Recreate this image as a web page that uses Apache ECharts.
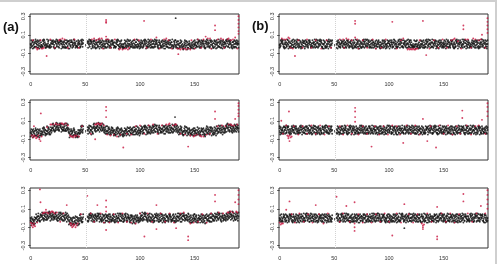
<!DOCTYPE html>
<html>
<head>
<meta charset="utf-8">
<script src="https://cdn.jsdelivr.net/npm/echarts@6/dist/echarts.min.js"></script>
<style>
  html, body { margin: 0; padding: 0; background: #fff; }
  #chart { width: 499px; height: 264px; }
</style>
</head>
<body>
<div id="chart"></div>
<script>
// tick labels
const xTicks = [0, 50, 100, 150];
const yTicks = [-0.3, -0.1, 0.1, 0.3];
const panelLabels = ['(a)', '(b)'];
const gapLine = 50.5;

// black band: one letter per 0.5 on x, 'k' = 0, each letter step = 0.01, '.' = no data
// core of the band
const bandA = 'kjlim jkhln lkjmi kilhj jihkl ijkgj kilhj ijlhk lkmjn mlkin klmjl nkljm kmjhl lkmin kljim mjkil ' +
  'jlkin ikmjk lhjkm kl... ....l mkjln kmlji lnkjm kljim hkmlj mjkil jkhln lkjmi iknjl kjlim hlkmj ' +
  'jihkl ijkhj kgljh ijlik ikjhl jkilh kijmj hkjil kmjhl ljikm kilhj mkilj jnkhk lhjkm kljim jlkin ' +
  'mjkil ikmjk hlkmj lkjmi jihkj ihjkg jkihl ijhki hjkil ijgkj kihjl jikhj kljim lkmin kmjhl jlkin ' +
  'lkmjl kilhj mjkil lnkjm kjlim hkmlj ikmjk mlkin lhjkm kljim jnkhk lmkjl k';
const bandB = 'jkilm kljhk mkjil kjmhl likjm jhkli kmjlk ijlhm kjmil hlkjn jkilk mjhkl ilkmj kjhlm ljkik jmlhk ' +
  'kjlmi hkjln kmjik jl... ....k jlmik hkjlm ikljk mjkli kjhml ljkim kilhj jlkmh kijlm kljhk mkijl ' +
  'ikljm jhkli kmjlk lijkh kljmi jkhlk ilmjk jkilh lkjim kjhlm jlkik mhjkl jkmli hlkjm ikjlk ljhmk ' +
  'jijhk ihjkj hkijl jgikj kljim jkhlk mijkl kjlhm ljkim kihlj jmkli kjhlk mkjli jlkhm kijlk ljikm ' +
  'kjhlm ikljk mljik jkmhl likjm kjlhk jmkil kljim jkmli hkljm kjilk mljkh k';
const bandC = 'hgifj higek jhfig hjegi gihjf ihkgj jikhl ijkhj mnlpo kmnol nmkpn omlnk nmokl pmnlm hgifj ghiek ' +
  'fhgei gfhdg kjlik jl... ....k jlmik kjlim nomln mnolk nmpln omknm kjlij jikhl ijhkj hijgk ihkjg ' +
  'ihjgk hikjg ijhgk jhigj jikhl jkhij kijlh ijkhj kjlim jkhln lkjmi kilhj lkmjn kljmi mlkjn lkmil ' +
  'lmkjn klmjl mkljn lkmjl mlkjn lkmjl jikhl jkhij ijkhj jikhl ihjgk hikjg ijhgk jhigj hikjf ihjgk ' +
  'jikhl ijkhj kijlh jhkij kljim lkmjl kilmj lkmin mlnkj nmlok mnlkm olnmk m';
const bandD = 'mhljk kjnik kmhjl nkilj ljmik kjhlm kiljk mjkhl kilmj hlkjn ljmki kjlhm jkmil lhkjm ikmlj kjhln ' +
  'lkjmi kijhl mjkil jk... ....l kjmil hjkml kijlk kmjil jlkhm ljikm kjlhk ijkml hkljm kjlik mljhk ' +
  'kljhm ikljk jmlik kjhlm ljkim jkhlm kiljk mjkil kjmli hlkjm ljkim kjlhk mjkli jhklm kljik ljmhk ' +
  'kiljm jklhk mjlik kjlmh ljkmi kjhlk milkj jkmlh kmjli jlkhk ljmik jkilh ikljm kjhlm jlkim kljhk ' +
  'mkjli jhklm kiljk ljmkh kljmi jkhlk mljik kjmlh ljkim kmjhl jklim kljhm k';
const bandE = 'hgjfi hgiek kjlim jkhln mlnkj nmlok mnlkm olnmk nmlkm olmnk lkmjn kljmi mlkjn lkmjl hgifj higek ' +
  'ghfie hjgih kjlik jl... ....l mkjln kmlji lnkjm lkmjn kljmi kjlim jkhln lkjmi kilhj kjmli ikmjk ' +
  'kljim hlkjm jkilm kjhlk jikhl ijkhj kijlh jhkij lkmjn kljmi mlkjn lkmil kjlim jkhln lkjmi kilhj ' +
  'mjkli kjhml ljkim kilhj jlkmh kijlm lkmjn kljmi mlkjn lkmil jikhl ijkhj kijlh jhkij ijkhl jikhk ' +
  'kljim jkhlk lkmjn mlkjl lmkjn klmjl mkljn lkmjl mnlkm olnmk nmlkm olmnk m';
const bandF = 'kijlh jkmli kjhlm ljkim kjmli hlkjm ljkim kjlhk ljmik kjhlm kiljk mjkhl kmjil jlkhm ljikm kjlhk ' +
  'jkmil lhkjm ikmlj kj... ....k ljmik kjhlm ikljk mjkli jhklm kljik ljmhk kiljm jklhk mjlik kjlmh ' +
  'ijkml hkljm kjlik mljhk ljkmi kjhlk milkj jkmlh kmjli jlkhk ljmik jkilh ikljm kjhlm jlkim kljhk ' +
  'kljhm ikljk jmlik kjhlm mkjli jhklm kiljk ljmkh kljmi jkhlk mljik kjmlh ljkim kmjhl jklim kljhm ' +
  'kilmj hlkjn ljmki kjlhm lkjmi kijhl mjkil jklmk mhljk kjnik kmhjl nkilj k';

// outer fringe of the band, same encoding
const fringeA = 'gohnf ogmhp hngog nfohm ghonp omgih phnog hgoln nohgf gnpho mhgon ofnhg hngog gohnf nfohm ogmhp ' +
  'omgih hgoln ghonp ho... ....n gnpho ofnhg nohgf ogmhp nfohm gohnf hngog phnog mhgon omgih ghonp ' +
  'ofnhg nohgf hgoln gnpho nfohm hngog ogmhp gohnf hgoln ghonp ofnhg phnog mhgon gnpho nohgf omgih ' +
  'gohnf nfohm hngog ogmhp fgnmo ogmnf nflgo mngfe fmogn nemgf nlfhg gmfnf omgih phnog hgoln nohgf ' +
  'gnpho mhgon ofnhg gohnf ogmhp hngog nfohm ghonp phnog nohgf mhgon hgoln g';
const fringeB = 'ghonp nohgf ogmhp ofnhg hngog phnog gnpho gohnf hgoln nfohm mhgon omgih ogmhp gnpho ghonp nohgf ' +
  'ofnhg gohnf phnog no... ....g nfohm hgoln hngog mhgon omgih nohgf ogmhp gohnf ofnhg ghonp gnpho ' +
  'phnog hngog omgih nfohm nohgf mhgon gohnf hgoln nfohm ogmhp ofnhg ghonp gnpho hgoln hngog phnog ' +
  'omgih gohnf nohgf mhgon hngog ghonp gnpho ogmhp hgoln ofnhg nfohm omgih gohnf phnog mhgon nohgf ' +
  'ghonp nfohm ogmhp gnpho ofnhg omgih hgoln hngog nohgf ogmhp phnog gohnf o';
const fringeC = 'dlekc ldjem ekdld kclej efmln mkegf ogmnf gfnkm qrkji jqskr pkjrq riqkj kqjrj jrkqi kclej ldjem ' +
  'kiced dckhj ghonp ho... ....n gnpho ofnhg qrkji rjpks qirkp jrkqi hngog ogmnf lgfnm mkegf efmln ' +
  'mdlfe lmfed femjl elnfm mengl gmfnf nflgo fngme hgoln ghonp ofnhg phnog nihpo hoqip opihg pnhji ' +
  'hpiog ogpin iohph phniq hipoq qioph nflgo mngfe fmogn nemgf mkegf fleme mkegf nflme femjl lmfed ' +
  'fmogn lgfnm nemgf fngme ogmhp iohph nfohm hipoq rjpqi pqjih ojiqp jiqnp i';
const fringeD = 'ofnhg mhgon gnpho nohgf hgoln phnog omgih ghonp nfohm hngog ogmhp gohnf gnpho ofnhg nohgf mhgon ' +
  'ghonp phnog hgoln og... ....h gohnf hngog ogmhp nohgf ghonp nfohm ofnhg omgih gnpho phnog hngog ' +
  'mhgon ogmhp hgoln gohnf hngog omgih ofnhg gnpho phnog gohnf nohgf nfohm ogmhp mhgon ghonp hgoln ' +
  'gnpho hngog gohnf omgih ofnhg hgoln nfohm phnog ghonp nohgf ogmhp mhgon gohnf omgih hngog ofnhg ' +
  'nfohm gnpho hgoln nohgf phnog ogmhp ghonp gohnf mhgon ofnhg omgih hngog n';
const fringeE = 'kclej edlik ogmhp mhgon iqjph jpiqi ijqpr qhpji qoikj pqjih hoqip qioph phniq ogpin dlekc ekdld ' +
  'dkmel lckde nohgf go... ....h ghonp phnog mhgon ihpmo pgoih gohnf nfohm hngog omgih nohgf ogmhp ' +
  'gnpho phnog ghonp hgoln lgfnm nemgf mengl nlfhg phniq hipoq opihg iohph gohnf hgoln phnog gnpho ' +
  'ofnhg nfohm mhgon omgih nohgf ogmhp hpiog ogpin pnhji nihpo gmfnf fgnmo ogmnf gfnkm fmogn fngme ' +
  'nfohm hngog pgoih ihpmo hoqip opihg pnhji nihpo ijqpr qiojr qhpji iqjph q';
const fringeF = 'hngog hgoln gohnf mhgon nohgf omgih ofnhg nfohm ogmhp ghonp phnog gnpho mhgon gohnf hgoln hngog ' +
  'nfohm ofnhg omgih gn... ....o phnog ghonp ogmhp gnpho nohgf hngog hgoln gohnf nfohm mhgon ofnhg ' +
  'omgih ogmhp gnpho ghonp phnog hgoln nohgf hngog ofnhg mhgon gohnf ogmhp ghonp omgih nfohm gnpho ' +
  'hgoln phnog hngog nohgf ogmhp gohnf ofnhg omgih mhgon nfohm ghonp phnog nohgf gnpho hgoln gohnf ' +
  'hngog ofnhg ogmhp nfohm omgih mhgon phnog ghonp gnpho hgoln nohgf ofnhg h';

// stray black points outside the band
const blackA = [[132.6, 0.28]];
const blackB = [];
const blackC = [[132, 0.14]];
const blackD = [];
const blackE = [];
const blackF = [[114, -0.11]];

// red points
const redA = [[2,0.04],[5,-0.04],[6,-0.06],[7,-0.05],[9,0.04],[10,-0.05],[11,-0.05],[12,-0.04],[14.6,-0.13],[18,0.05],[22,-0.04],[26,0.04],[27,0.05],[29,0.06],[31,0.05],[34,-0.04],[40,0.05],[44,-0.04],[56,0.05],[58,0.06],[60,0.04],[62,0.05],[63,0.06],[65,0.06],[66,-0.05],[69,0.26],[69,0.24],[69,0.23],[69,0.08],[69,0.05],[71,0.05],[73,-0.04],[77,0.05],[81,-0.06],[82,-0.05],[84,-0.06],[86,-0.05],[87,-0.05],[89,-0.06],[90,-0.04],[95,0.05],[99,0.04],[103.7,0.25],[106,-0.04],[110,0.05],[115,0.07],[118,-0.05],[122,0.05],[124,0.06],[126,0.04],[129,-0.05],[134,-0.05],[135,-0.11],[136,-0.05],[137,-0.06],[139,-0.05],[141,-0.05],[142,-0.06],[144,-0.05],[146,-0.06],[147,0.04],[150,-0.05],[153,0.05],[156,-0.04],[158,0.05],[160,0.08],[162,0.06],[164,0.06],[165,-0.05],[168.6,0.2],[168.6,0.15],[171,0.05],[174,0.06],[176,0.05],[177,-0.04],[180,0.05],[181,0.06],[183,0.04],[185,0.05],[187,0.07],[189,-0.05],[190,0.3],[190,0.26],[190,0.22],[190,0.18],[190,0.14],[190,0.11]];
const redB = [[2,0.06],[4,0.05],[6,0.05],[8,0.07],[9,0.06],[10,-0.04],[12,-0.05],[14,-0.13],[17,0.04],[21,-0.04],[25,0.05],[29,-0.04],[33,0.04],[38,-0.05],[43,0.04],[47,-0.04],[55,0.05],[58,0.05],[59,-0.04],[61,0.06],[63,0.05],[66,0.04],[69,0.25],[69,0.22],[69,0.07],[71,0.05],[72,-0.05],[76,0.04],[80,-0.04],[85,0.05],[88,-0.05],[93,-0.04],[97,0.05],[103,0.24],[107,-0.05],[111,0.04],[113,0.06],[117,-0.06],[118,-0.05],[119,-0.06],[120,-0.055],[121,-0.06],[122,-0.05],[123,-0.06],[124,-0.06],[125,-0.05],[126,-0.05],[128,0.04],[131,0.25],[134,-0.12],[137,-0.05],[141,0.04],[145,-0.04],[149,0.05],[153,-0.04],[157,0.04],[159,0.05],[160,0.06],[163,0.03],[166,-0.05],[168,0.2],[168,0.16],[170,0.05],[172,0.05],[175,-0.04],[177,0.06],[179,0.05],[182,0.04],[184,0.05],[185,0.1],[188,-0.04],[190,0.28],[190,0.24],[190,0.2],[190,0.16],[190,0.12]];
const redC = [[1,-0.06],[2,-0.08],[3,-0.06],[4,-0.07],[5,-0.09],[6,-0.08],[7,-0.06],[8,-0.1],[9,-0.12],[9.3,0.18],[10,-0.07],[3,0.04],[15,0.03],[18,0.06],[19,0.06],[21,0.06],[23,0.07],[24,0.06],[26,0.06],[28,0.07],[29,0.07],[30,0.06],[32,0.07],[34,0.05],[36,-0.06],[37,-0.07],[38,-0.07],[39,-0.08],[40,-0.06],[41,-0.07],[42,-0.06],[44,-0.07],[47,0.04],[55,-0.04],[59,0.06],[59,-0.1],[60,0.06],[61,0.07],[62,0.07],[63,0.06],[64,0.06],[65,0.07],[67,0.05],[69,0.25],[69,0.21],[69,0.14],[70,-0.05],[73,-0.06],[76,-0.05],[79,-0.07],[82,-0.05],[84.7,-0.19],[88,-0.04],[92,-0.05],[96,0.04],[100,0.05],[104,-0.04],[108,0.05],[112,0.06],[116,-0.04],[120,0.05],[124,0.06],[126,0.06],[127,0.07],[130,0.05],[132,0.06],[133,0.06],[137,-0.04],[141,-0.05],[144,-0.18],[146,-0.06],[149,-0.07],[150,-0.06],[152,-0.05],[155,-0.06],[156,-0.07],[158,-0.07],[161,-0.05],[164,-0.04],[168.6,0.2],[168.6,0.12],[171,0.04],[175,0.05],[178,0.04],[181,0.06],[183,0.06],[184,0.05],[186,0.05],[187,0.12],[189,0.06],[190,0.29],[190,0.26],[190,0.22],[190,0.18],[190,0.15]];
const redD = [[1.5,0.1],[3,-0.04],[6,0.05],[7,-0.06],[8,-0.07],[8,-0.09],[8.5,0.2],[9,-0.12],[9,-0.06],[10,-0.08],[11,-0.07],[13,0.04],[17,-0.05],[21,0.04],[25,-0.04],[29,0.05],[33,-0.04],[37,0.05],[41,-0.05],[45,0.04],[55,0.04],[58,-0.05],[62,0.05],[66,-0.04],[69,0.24],[69,0.2],[69,0.14],[69,0.09],[72,-0.05],[76,0.04],[80,-0.04],[84,-0.18],[87,0.04],[91,-0.05],[95,0.04],[99,-0.05],[103,0.05],[107,0.04],[110,-0.05],[113,-0.14],[116,0.05],[120,-0.04],[124,0.05],[128,-0.05],[131,0.12],[135,-0.12],[138,0.04],[143,-0.19],[146,0.05],[150,-0.04],[154,0.05],[158,-0.05],[162,0.04],[165,-0.04],[167,0.21],[167,0.13],[171,0.05],[175,-0.05],[179,0.04],[182,0.05],[185,0.11],[188,-0.04],[190,0.29],[190,0.25],[190,0.2],[190,0.15]];
const redE = [[0,-0.05],[1,-0.08],[1,-0.06],[2,-0.1],[3,-0.06],[3,-0.08],[4,-0.09],[6,-0.05],[8.5,0.31],[9,0.17],[11,0.05],[12,0.06],[13,0.06],[14,0.09],[15,0.06],[16,0.05],[18,0.06],[19,0.07],[20,0.07],[21,0.06],[22,0.05],[24,0.06],[27,-0.04],[30,0.05],[33,0.14],[36,-0.06],[37,-0.08],[37,-0.06],[38,-0.1],[39,-0.09],[39,-0.07],[40,-0.07],[41,-0.1],[42,-0.08],[43,-0.06],[46,0.04],[51.8,0.24],[55,0.05],[58,-0.04],[61,0.14],[64,0.05],[67,-0.05],[69,0.19],[69,0.12],[69,0.07],[69,-0.13],[72,-0.05],[76,0.04],[80,-0.05],[84,0.05],[88,-0.04],[92,-0.05],[96,-0.06],[100,0.05],[104,-0.2],[107,0.05],[111,-0.04],[115,0.14],[115,-0.12],[119,0.05],[123,-0.04],[127,0.05],[131,-0.05],[133,-0.11],[137,0.05],[140,0.06],[144,-0.2],[144,-0.24],[146,-0.06],[149,-0.05],[153,-0.04],[157,0.04],[161,-0.05],[165,0.05],[168.6,0.25],[168.6,0.18],[172,0.06],[176,0.05],[180,0.06],[181,0.06],[183,0.07],[185,0.06],[187,0.17],[188,0.07],[189,0.06],[190,0.3],[190,0.25],[190,0.2],[190,0.15]];
const redF = [[0,-0.05],[1,-0.07],[2,-0.06],[3,-0.06],[6,0.09],[9,0.18],[11,0.04],[14,-0.05],[18,0.05],[22,-0.04],[26,0.04],[30,-0.05],[33,0.14],[36,0.04],[40,-0.06],[44,0.05],[52,0.23],[55,-0.04],[58,0.05],[61,0.13],[64,-0.04],[68.5,0.17],[68.5,-0.06],[68.5,-0.1],[68.5,-0.14],[72,0.04],[76,-0.05],[80,0.04],[84,-0.05],[88,0.04],[92,-0.04],[96,0.05],[100,-0.04],[103,-0.19],[107,0.05],[111,-0.05],[114,0.15],[118,0.04],[122,-0.05],[126,0.04],[130,-0.06],[131,-0.08],[131,-0.1],[131,-0.12],[132,-0.07],[135,0.05],[139,-0.04],[144,0.12],[144,-0.2],[144,-0.23],[148,0.05],[152,-0.04],[156,0.05],[160,-0.05],[164,0.04],[168,0.26],[168,0.18],[172,0.05],[176,-0.04],[180,0.05],[184,0.13],[188,0.05],[190,0.3],[190,0.25],[190,0.2],[190,0.15],[190,0.1]];

const panels = [
  { band: bandA, fringe: fringeA, black: blackA, red: redA },
  { band: bandB, fringe: fringeB, black: blackB, red: redB },
  { band: bandC, fringe: fringeC, black: blackC, red: redC },
  { band: bandD, fringe: fringeD, black: blackD, red: redD },
  { band: bandE, fringe: fringeE, black: blackE, red: redE },
  { band: bandF, fringe: fringeF, black: blackF, red: redF },
];

const decodeBand = (str) => {
  const s = str.replace(/ /g, '');
  const pts = [];
  for (let i = 0; i < s.length; i++) {
    if (s[i] === '.') continue;
    pts.push([i * 0.5, (s.charCodeAt(i) - 107) / 100]);
  }
  return pts;
};

const lefts = [30, 279];
const tops = [14, 100, 188];
const font = '"Liberation Sans", Arial, sans-serif';

const grid = [], xAxis = [], yAxis = [], series = [];
panels.forEach((p, i) => {
  const col = i % 2, row = Math.floor(i / 2);
  grid.push({
    left: lefts[col], top: tops[row], width: 209, height: 60,
    show: true, borderColor: '#333', borderWidth: 1, backgroundColor: 'transparent',
  });
  xAxis.push({
    type: 'value', gridIndex: i, min: -0.6, max: 190.5,
    axisLine: { show: false },
    axisTick: { show: true, length: 2.5, customValues: xTicks, lineStyle: { color: '#333', width: 0.8 } },
    axisLabel: { customValues: xTicks, fontSize: 5.5, color: '#333', margin: 7, fontFamily: font },
    splitLine: { show: false },
  });
  yAxis.push({
    type: 'value', gridIndex: i, min: -0.325, max: 0.325,
    axisLine: { show: false },
    axisTick: { show: true, length: 2.5, customValues: yTicks, lineStyle: { color: '#333', width: 0.8 } },
    axisLabel: {
      customValues: yTicks, fontSize: 5.5, color: '#333', margin: 4, rotate: 90,
      fontFamily: font, formatter: (v) => v.toFixed(1),
    },
    splitLine: { show: false },
  });
  series.push({
    type: 'scatter', xAxisIndex: i, yAxisIndex: i,
    data: decodeBand(p.band).concat(decodeBand(p.fringe), p.black),
    symbolSize: 1.9, itemStyle: { color: '#151515', opacity: 0.85 },
    markLine: {
      silent: true, symbol: 'none', label: { show: false },
      lineStyle: { type: 'dotted', color: '#d2d2d2', width: 1 },
      data: [{ xAxis: gapLine }],
    },
  });
  series.push({
    type: 'scatter', xAxisIndex: i, yAxisIndex: i,
    data: p.red, symbolSize: 1.9, itemStyle: { color: '#c8143f' },
  });
});

const chart = echarts.init(document.getElementById('chart'));
chart.setOption({
  animation: false,
  grid, xAxis, yAxis, series,
  graphic: [
    { type: 'text', left: 3, top: 21, style: { text: panelLabels[0], font: 'bold 13px ' + font, fill: '#111' } },
    { type: 'text', left: 252, top: 20, style: { text: panelLabels[1], font: 'bold 13px ' + font, fill: '#111' } },
    { type: 'line', shape: { x1: 0, y1: 1, x2: 497, y2: 1 }, style: { stroke: '#cfcfcf', lineWidth: 2 } },
    { type: 'line', shape: { x1: 496, y1: 0, x2: 496, y2: 264 }, style: { stroke: '#cfcfcf', lineWidth: 2 } },
  ],
});
</script>
</body>
</html>
